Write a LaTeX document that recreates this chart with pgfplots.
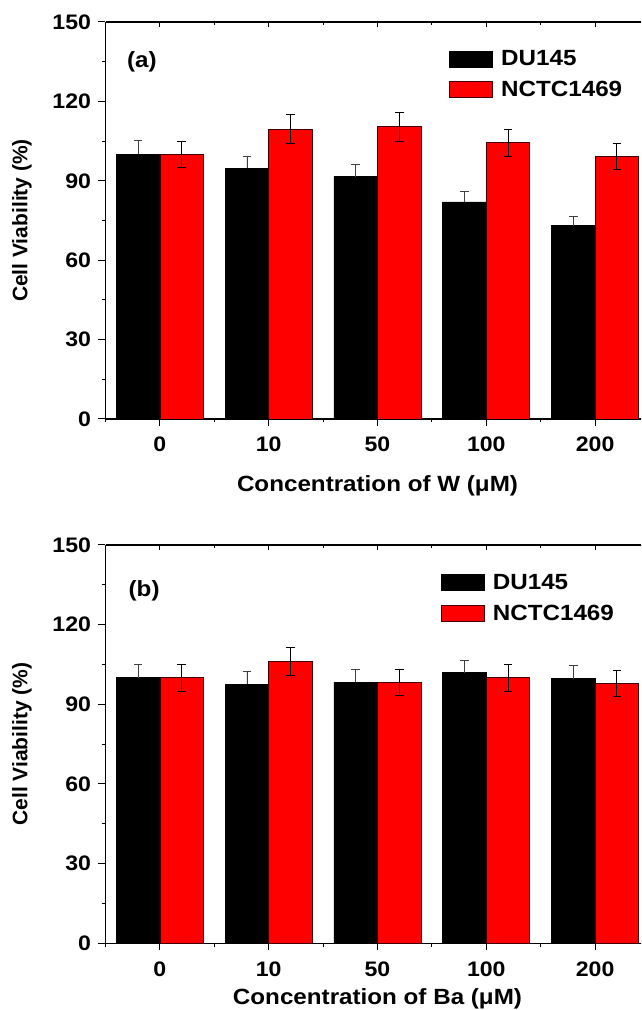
\documentclass[border=0pt]{standalone}
\usepackage{fontspec}
\setmainfont{Liberation Sans}[FakeStretch=1.1]
\newfontfamily\plainfont{Liberation Sans}
\usepackage{pgfplots}
\pgfplotsset{compat=1.18}

\newcommand{\tickf}{\fontsize{21}{25}\selectfont\bfseries}
\newcommand{\labf}{\fontsize{22}{26}\selectfont\bfseries}

\pgfplotsset{
  panel/.style={
    scale only axis, width=544pt,
    xmin=-0.5, xmax=4.5, ymin=0, ymax=150,
    axis lines*=left,
    tick align=outside,
    axis line style={line width=1.2pt},
    tick style={line width=1pt, black},
    major tick length=7pt, minor tick length=3.5pt,
    xtick={0,...,4}, xticklabels={0,10,50,100,200},
    minor xtick={-0.5,0.5,1.5,2.5,3.5,4.5},
    ytick={0,30,...,150}, minor y tick num=1,
    /pgf/number format/assume math mode=true,
    ticklabel style={font=\tickf},
    xticklabel style={inner sep=0pt, yshift=-11pt},
    yticklabel style={xshift=-4pt},
    label style={font=\labf},
    ylabel={\plainfont\fontsize{21}{25}\selectfont\bfseries Cell Viability (\%)},
    ylabel style={at={(axis description cs:-0.1535,0.5)}, anchor=center},
    xlabel style={at={(axis description cs:0.5,0)}, anchor=north, inner sep=0pt},
    ybar, bar width=0.4,
    legend image code/.code={\draw[#1, line width=0.7pt] (0pt,-8pt) rectangle (43.5pt,8pt);},
    legend style={anchor=north west, draw=none, fill=none, inner sep=0pt, outer sep=0pt,
      row sep=14pt, column sep=8pt, nodes={inner sep=0pt, anchor=west}, font=\labf},
  },
  topticks/.style={
    scale only axis, width=544pt,
    xmin=-0.5, xmax=4.5, ymin=0, ymax=150,
    axis x line*=top, axis y line=none,
    tick align=inside,
    axis line style={line width=1.2pt},
    tick style={line width=1pt, black},
    major tick length=5pt, minor tick length=3pt,
    xtick={0,...,4}, xticklabels={},
    minor xtick={-0.5,0.5,1.5,2.5,3.5,4.5},
    ytick=\empty,
  },
  blackbar/.style={fill=black, draw=black, line width=0.7pt, bar shift=-0.2,
    error bars/.cd, y dir=plus, y explicit,
    error bar style={black!75, line width=0.8pt},
    error mark options={rotate=90, mark size=4.3pt, line width=0.8pt, black!75}},
  redbar/.style={fill=red, draw=black!75!red, line width=0.7pt, bar shift=0.2,
    error bars/.cd, y dir=both, y explicit,
    error bar style={black, line width=0.8pt},
    error mark options={rotate=90, mark size=4.3pt, line width=0.8pt, black}},
}

\begin{document}
\begin{tikzpicture}
\clip (0,0) rectangle (641pt,1010pt);

% (a) W
\begin{axis}[panel, at={(105.5pt,591pt)}, anchor=south west, height=397pt,
  xlabel={Concentration of W (μM)}, xlabel style={yshift=-56pt},
  legend style={at={(axis description cs:0.6314,0.9277)}}]
\addplot[blackbar] table[x=x, y=y, y error=e] {
x y e
0 100.1 5.0
1 94.8 4.4
2 91.6 4.5
3 82.0 4.0
4 73.0 3.6
};
\addlegendentry{DU145}
\addplot[redbar] table[x=x, y=y, y error=e] {
x y e
0 100.0 5.0
1 109.5 5.5
2 110.5 5.5
3 104.4 5.2
4 99.3 4.9
};
\addlegendentry{NCTC1469}
\node[font=\labf] at (rel axis cs:0.067,0.899) {(a)};
\end{axis}
\begin{axis}[topticks, at={(105.5pt,591pt)}, anchor=south west, height=397pt]
\end{axis}

% (b) Ba
\begin{axis}[panel, at={(105.5pt,66.7pt)}, anchor=south west, height=398.3pt,
  xlabel={Concentration of Ba (μM)}, xlabel style={yshift=-45pt},
  legend style={at={(axis description cs:0.6161,0.9265)}}]
\addplot[blackbar] table[x=x, y=y, y error=e] {
x y e
0 100.0 5.0
1 97.5 4.9
2 98.4 4.7
3 101.9 4.7
4 99.6 4.9
};
\addlegendentry{DU145}
\addplot[redbar] table[x=x, y=y, y error=e] {
x y e
0 100.0 5.0
1 106.2 5.3
2 98.4 4.9
3 100.1 5.1
4 97.9 5.0
};
\addlegendentry{NCTC1469}
\node[font=\labf] at (rel axis cs:0.071,0.886) {(b)};
\end{axis}
\begin{axis}[topticks, at={(105.5pt,66.7pt)}, anchor=south west, height=398.3pt]
\end{axis}
\end{tikzpicture}
\end{document}
